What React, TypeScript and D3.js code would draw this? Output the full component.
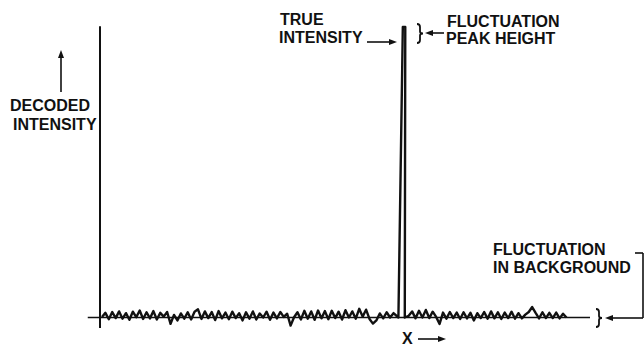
import React, { useEffect, useRef } from "react";
import * as d3 from "d3";

const leftNoise = [
  0.2, 1.6, -0.6, 1.9, -0.2, 2.1, -0.4, 1.5, -0.8, 2.0, 0.1, 2.4, -0.5, 1.8, -0.3,
  2.2, -0.7, 1.6, 0.3, 1.9, -2.2, 0.9, -1.0, 1.4, -0.4, 1.8, -0.7, 2.0, 2.8, -0.5,
  2.1, -0.2, 1.9, -0.9, 2.2, -0.3, 1.7, -0.6, 2.0, -0.2, 1.5, -1.0, 1.8, -0.4, 2.1,
  -0.7, 1.4, 0.0, 2.0, -0.8, 1.7, -0.3, 1.9, 0.2, 1.3, -2.8, 0.1, 1.8, -0.7, 2.3,
  -0.4, 2.1, -0.8, 2.4, -0.3, 2.2, -0.6, 2.3, -0.2, 2.0, -0.7, 2.5, 0.0, 2.1, -0.4,
  3.0, 0.3, 2.7, -0.5, -2.1, -1.0, 1.4, -0.3, 1.8, 0.0, 1.5,
];
// noise right of the peak (x from 63.0, step 0.7)
const rightNoise = [
  0.6, 2.1, -0.3, 2.3, 0.0, 2.6, -0.2, 2.0, 0.2, -2.2, 1.7, -0.4, 1.9, -0.2, 1.7,
  -0.5, 1.8, -0.3, 1.6, -1.0, 1.5, -0.2, 1.9, -0.4, 2.1, -0.3, 1.8, -0.5, 1.7, -0.2,
  2.0, -0.4, 1.5, -0.3, 1.0, 1.9, 3.6, 1.6, -0.3, 1.8, -0.2, 1.6, -0.2, 1.7, -0.3,
  1.3, 0.0,
];
const leftStart = 0.4;
const rightStart = 63.0;
const step = 0.7;

// the true intensity spike
const peakX = [60.9, 61.8, 62.3, 62.2];
const peakY = [0, 100, 100, 0];

const W = 644;
const H = 346;
const FONT = "'Liberation Sans', Arial, sans-serif";

const App = () => {
  const svgRef = useRef<SVGSVGElement>(null);

  useEffect(() => {
    const svg = d3.select(svgRef.current);
    svg.selectAll("*").remove();

    const x = d3.scaleLinear().domain([0, 100]).range([100, 590]);
    const y = d3.scaleLinear().domain([0, 100]).range([317.5, 27]);

    const pts: [number, number][] = [];
    leftNoise.forEach((v, i) => pts.push([leftStart + i * step, v]));
    peakX.forEach((px, i) => pts.push([px, peakY[i]]));
    rightNoise.forEach((v, i) => pts.push([rightStart + i * step, v]));

    const line = d3
      .line<[number, number]>()
      .x((d) => x(d[0]))
      .y((d) => y(d[1]));

    const ink = "#111";

    // axes
    svg
      .append("line")
      .attr("x1", x(-2.5))
      .attr("x2", x(100))
      .attr("y1", y(0))
      .attr("y2", y(0))
      .attr("stroke", ink)
      .attr("stroke-width", 1.6);
    svg
      .append("line")
      .attr("x1", x(0))
      .attr("x2", x(0))
      .attr("y1", y(100.3))
      .attr("y2", y(-3.6))
      .attr("stroke", ink)
      .attr("stroke-width", 2);

    // trace
    svg
      .append("path")
      .datum(pts)
      .attr("d", line)
      .attr("fill", "none")
      .attr("stroke", ink)
      .attr("stroke-width", 2.4)
      .attr("stroke-linejoin", "round");

    const text = (tx: number, ty: number, s: string) =>
      svg
        .append("text")
        .attr("x", tx)
        .attr("y", ty)
        .attr("font-family", FONT)
        .attr("font-weight", "bold")
        .attr("font-size", 16)
        .attr("fill", ink)
        .text(s);

    const seg = (x1: number, y1: number, x2: number, y2: number, w = 1.6) =>
      svg
        .append("line")
        .attr("x1", x1)
        .attr("y1", y1)
        .attr("x2", x2)
        .attr("y2", y2)
        .attr("stroke", ink)
        .attr("stroke-width", w);

    // arrow head: tip at (tx, ty), pointing in direction dir
    const head = (tx: number, ty: number, dir: "up" | "left" | "right") => {
      let p = "";
      if (dir === "up") p = `M${tx},${ty} L${tx - 3},${ty + 8} L${tx + 3},${ty + 8} Z`;
      if (dir === "right") p = `M${tx},${ty} L${tx - 8},${ty - 3} L${tx - 8},${ty + 3} Z`;
      if (dir === "left") p = `M${tx},${ty} L${tx + 8},${ty - 3} L${tx + 8},${ty + 3} Z`;
      svg.append("path").attr("d", p).attr("fill", ink);
    };

    const brace = (bx: number, y0: number, y1: number) => {
      const ym = (y0 + y1) / 2;
      svg
        .append("path")
        .attr(
          "d",
          `M${bx - 3},${y0} Q${bx},${y0} ${bx},${y0 + 3} L${bx},${ym - 2} Q${bx},${ym} ${bx + 3},${ym} Q${bx},${ym} ${bx},${ym + 2} L${bx},${y1 - 3} Q${bx},${y1} ${bx - 3},${y1}`
        )
        .attr("fill", "none")
        .attr("stroke", ink)
        .attr("stroke-width", 1.8);
    };

    // decoded intensity label
    seg(61, 92, 61, 56);
    head(61, 50, "up");
    text(10, 111, "DECODED");
    text(13, 130, "INTENSITY");

    // true intensity label
    text(280, 25, "TRUE");
    text(279, 43, "INTENSITY");
    seg(367, 42, 391, 42);
    head(397, 42, "right");

    // fluctuation peak height
    brace(420, 24, 43);
    seg(429, 33, 444, 33);
    head(425, 33, "left");
    text(447, 27, "FLUCTUATION");
    text(446, 44, "PEAK HEIGHT");

    // fluctuation in background
    text(493, 255, "FLUCTUATION");
    text(493, 273, "IN BACKGROUND");
    seg(635, 253, 643, 253);
    seg(643, 253, 643, 318);
    seg(643, 318, 611, 318);
    head(605, 318, "left");
    brace(599, 309, 327);

    // x label
    text(402, 344, "X");
    seg(418, 339, 440, 339);
    head(446, 339, "right");
  }, []);

  return (
    <div style={{ position: "fixed", left: 0, top: 0, background: "#fff" }}>
      <svg ref={svgRef} width={W} height={H} style={{ display: "block" }} />
    </div>
  );
};

export default App;
